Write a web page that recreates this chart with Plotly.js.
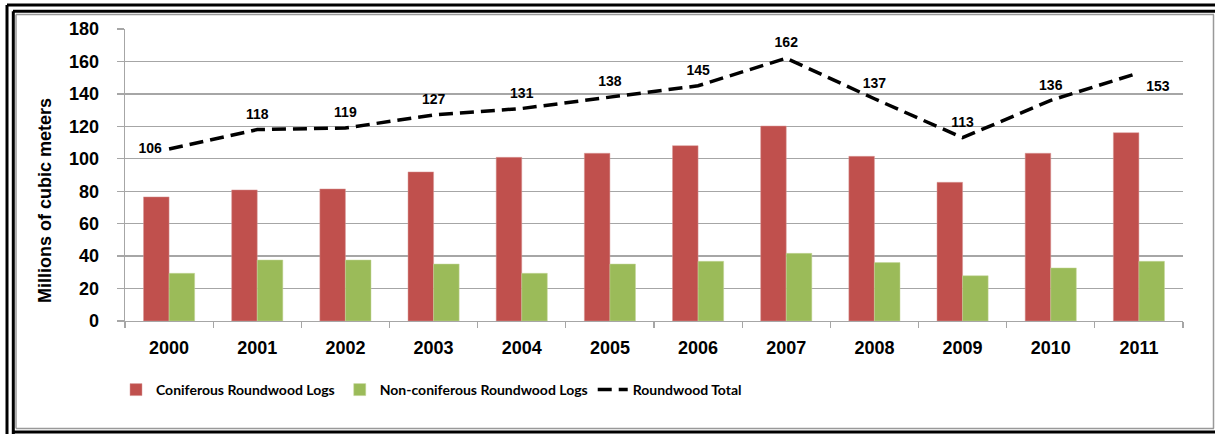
<!DOCTYPE html>
<html>
<head>
<meta charset="utf-8">
<script src="https://cdn.plot.ly/plotly-3.0.1.min.js"></script>
<style>html,body{margin:0;padding:0;background:#fff;}#chart{width:1215px;height:434px;}</style>
</head>
<body>
<div id="chart"></div>
<script>
const years = ['2000','2001','2002','2003','2004','2005','2006','2007','2008','2009','2010','2011'];
const coniferous = [76.5, 80.8, 81.4, 91.9, 100.9, 103.4, 108.1, 120.2, 101.5, 85.5, 103.4, 116.1];
const nonConiferous = [29.4, 37.6, 37.6, 35.1, 29.4, 35.1, 36.8, 41.7, 36.0, 27.9, 32.7, 36.8];
const roundwoodTotal = [106, 118, 119, 127, 131, 138, 145, 162, 137, 113, 136, 153];
const totalLabelPos = ['middle left','top center','top center','top center','top center','top center','top center','top center','top center','top center','top center','bottom right'];
const yTicks = [0,20,40,60,80,100,120,140,160,180];

const W = 1215, H = 434;
const M = {l:125, r:32, t:29, b:113};
const pw = W - M.l - M.r, ph = H - M.t - M.b;
const px = x => (x - M.l) / pw;
const py = y => (H - M.b - y) / ph;
function hline(x0, x1, y, color, w){ return {type:'line', xref:'paper', yref:'paper', x0:px(x0), x1:px(x1), y0:py(y), y1:py(y), line:{color:color, width:w}}; }
function vline(x, y0, y1, color, w){ return {type:'line', xref:'paper', yref:'paper', x0:px(x), x1:px(x), y0:py(y0), y1:py(y1), line:{color:color, width:w}}; }

const FONT = 'Liberation Sans, Arial, sans-serif';
const LEGEND_FONT = 'Lato, Liberation Sans, sans-serif';

const traces = [
  {type:'bar', name:'Coniferous Roundwood Logs', x:years, y:coniferous,
   marker:{color:'#C0504D', line:{color:'#D99A98', width:0.5}}},
  {type:'bar', name:'Non-coniferous Roundwood Logs', x:years, y:nonConiferous,
   marker:{color:'#9BBB59', line:{color:'#C4D79B', width:0.5}}},
  {type:'scatter', mode:'lines+markers+text', name:'Roundwood Total', x:years, y:roundwoodTotal,
   text:roundwoodTotal.map(String), textposition:totalLabelPos,
   textfont:{family:FONT, size:14, color:'#000', weight:'bold'},
   marker:{size:10, color:'rgba(0,0,0,0)', line:{width:0}},
   line:{color:'#000', width:3.5, dash:'14px,7px'}, cliponaxis:false}
];

const shapes = [
  hline(7, 1215, 5, '#000', 3),
  vline(7, 5, 434, '#000', 3),
  hline(13, 1215, 11.3, '#000', 3),
  vline(13.3, 11.3, 434, '#000', 3),
  hline(16, 1214, 14.5, '#999', 1.5),
  vline(16, 14.5, 428.5, '#999', 1.5),
  vline(1213.5, 14.5, 428.5, '#999', 1.5),
  hline(16, 1214, 428.5, '#999', 1.5),
  hline(13, 1215, 432, '#000', 3)
];

const layout = {
  width: W, height: H,
  margin: M,
  paper_bgcolor:'#fff', plot_bgcolor:'#fff',
  barmode:'group', bargap:0.42, bargroupgap:0,
  showlegend:true,
  legend:{orientation:'h', x:px(116), xanchor:'left', y:py(390), yanchor:'middle',
          font:{family:LEGEND_FONT, size:14, color:'#000', weight:'bold'}, itemwidth:30, tracegroupgap:0},
  xaxis:{type:'category', range:[-0.5, 11.5], autorange:false, showgrid:false, showline:true, linecolor:'#A6A6A6', linewidth:1.3,
         ticks:'outside', tickson:'boundaries', ticklen:6, tickcolor:'#A6A6A6', tickwidth:1.3,
         tickfont:{family:FONT, size:18, color:'#000', weight:'bold'}, ticklabelstandoff:10},
  yaxis:{range:[0,180], autorange:false, tickvals:yTicks, showgrid:true, gridcolor:'#A6A6A6', gridwidth:1.3,
         showline:true, linecolor:'#A6A6A6', linewidth:1.3, zeroline:false,
         ticks:'outside', ticklen:7, tickcolor:'#A6A6A6', tickwidth:1.3,
         tickfont:{family:FONT, size:18, color:'#000', weight:'bold'}, ticklabelstandoff:14},
  annotations:[{xref:'paper', yref:'paper', x:px(45), y:py(201), xanchor:'center', yanchor:'middle',
    text:'Millions of cubic meters', textangle:-90, showarrow:false,
    font:{family:FONT, size:18, color:'#000', weight:'bold'}}],
  shapes: shapes
};

Plotly.newPlot('chart', traces, layout, {displayModeBar:false, staticPlot:true});
</script>
</body>
</html>
